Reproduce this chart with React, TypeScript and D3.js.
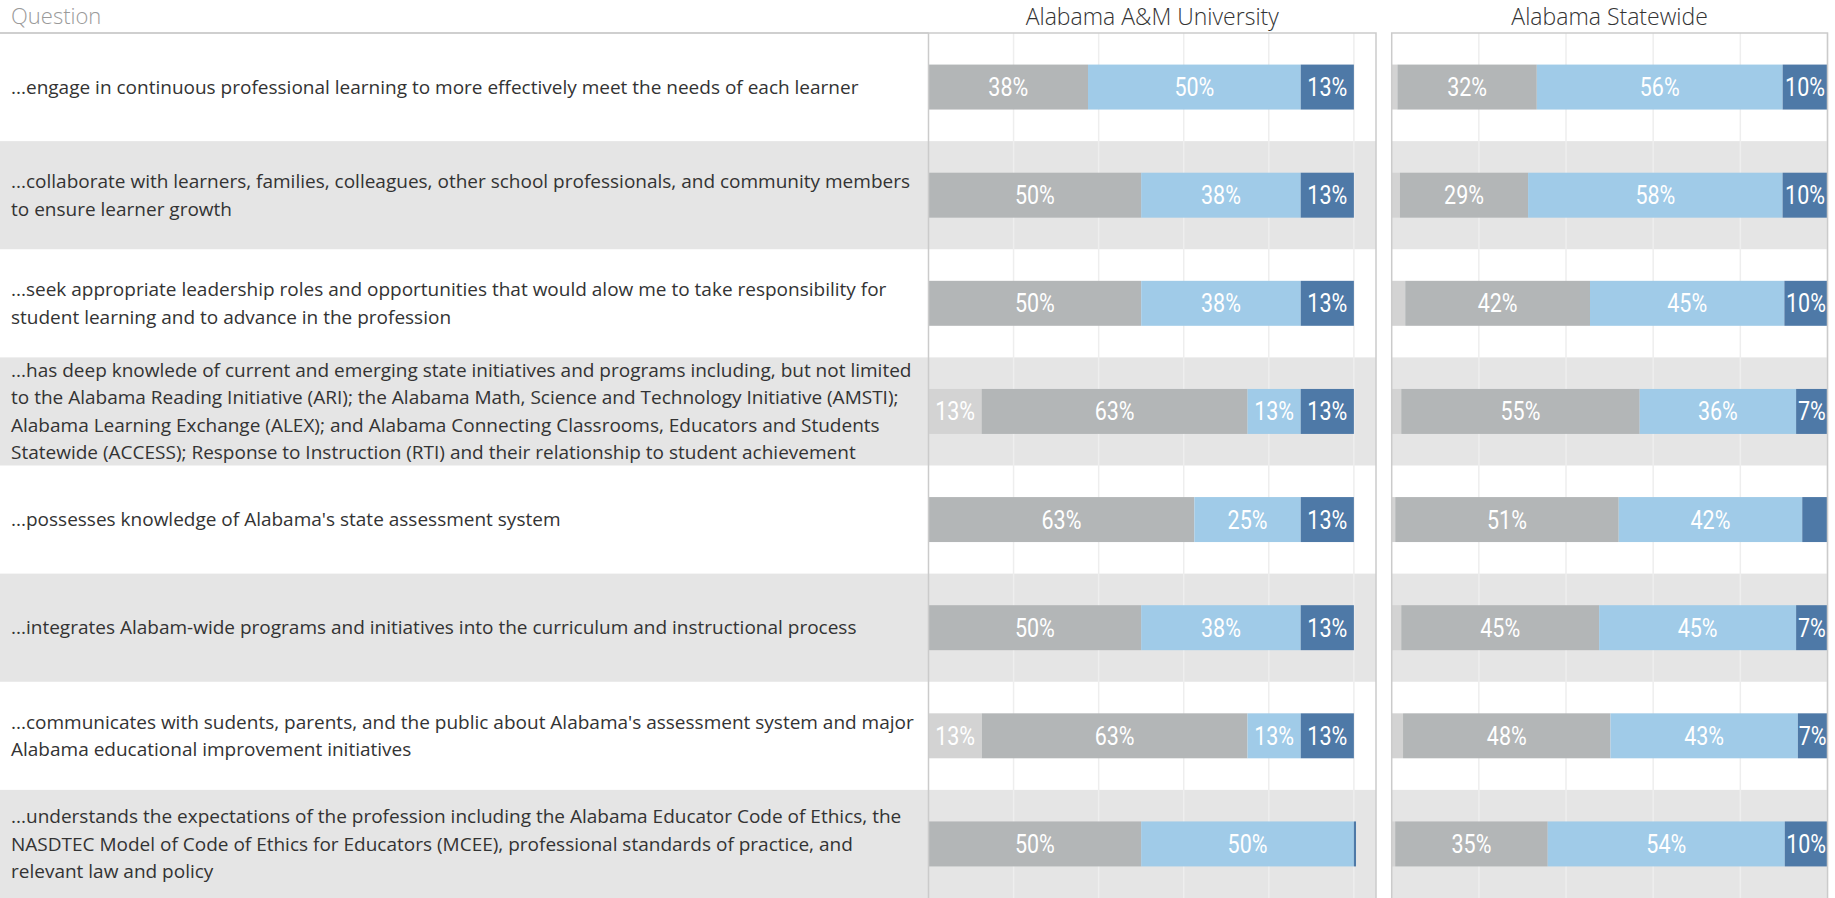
import React from "react";
import * as d3 from "d3";

const questionLines: string[][] = [
  ["...engage in continuous professional learning to more effectively meet the needs of each learner"],
  ["...collaborate with learners, families, colleagues, other school professionals, and community members", "to ensure learner growth"],
  ["...seek appropriate leadership roles and opportunities that would alow me to take responsibility for", "student learning and to advance in the profession"],
  [
    "...has deep knowlede of current and emerging state initiatives and programs including, but not limited",
    "to the Alabama Reading Initiative (ARI); the Alabama Math, Science and Technology Initiative (AMSTI);",
    "Alabama Learning Exchange (ALEX); and Alabama Connecting Classrooms, Educators and Students",
    "Statewide (ACCESS); Response to Instruction (RTI) and their relationship to student achievement",
  ],
  ["...possesses knowledge of Alabama's state assessment system"],
  ["...integrates Alabam-wide programs and initiatives into the curriculum and instructional process"],
  ["...communicates with sudents, parents, and the public about Alabama's assessment system and major", "Alabama educational improvement initiatives"],
  [
    "...understands the expectations of the profession including the Alabama Educator Code of Ethics, the",
    "NASDTEC Model of Code of Ethics for Educators (MCEE), professional standards of practice, and",
    "relevant law and policy",
  ],
];

const categories = ["Not prepared", "Somewhat prepared", "Prepared", "Well prepared"];
const categoryColors = ["#d3d3d3", "#b3b6b7", "#a0cbe8", "#4e79a7"];

const panelTitles = ["Alabama A&M University", "Alabama Statewide"];
const headerLabel = "Question";

// Alabama A&M University (percent)
const aamuNotPrepared = [0, 0, 0, 12.5, 0, 0, 12.5, 0];
const aamuSomewhat = [37.5, 50, 50, 62.5, 62.5, 50, 62.5, 50];
const aamuPrepared = [50, 37.5, 37.5, 12.5, 25, 37.5, 12.5, 50];
const aamuWell = [12.5, 12.5, 12.5, 12.5, 12.5, 12.5, 12.5, 0.5];

// Alabama Statewide (percent)
const stateNotPrepared = [1.3, 1.9, 3.1, 2.2, 0.8, 2.2, 2.6, 0.8];
const stateSomewhat = [32.0, 29.4, 42.4, 54.7, 51.3, 45.4, 47.6, 35.0];
const statePrepared = [56.4, 58.4, 44.6, 35.9, 42.1, 45.2, 43.0, 54.4];
const stateWell = [10.3, 10.3, 9.9, 7.2, 5.8, 7.2, 6.8, 9.8];

const gridTicks = [0.2, 0.4, 0.6, 0.8, 1.0];

const W = 1835;
const H = 898;
const TOP = 33;
const TEXT_RIGHT = 928.5;

function buildRows(a: number[], b: number[], c: number[], d: number[]) {
  return questionLines.map((_, i) => ({
    q: String(i),
    [categories[0]]: a[i] / 100,
    [categories[1]]: b[i] / 100,
    [categories[2]]: c[i] / 100,
    [categories[3]]: d[i] / 100,
  }));
}

const panels = [
  { title: panelTitles[0], rows: buildRows(aamuNotPrepared, aamuSomewhat, aamuPrepared, aamuWell), x0: 928.5, x1: 1376, max: 1.052 },
  { title: panelTitles[1], rows: buildRows(stateNotPrepared, stateSomewhat, statePrepared, stateWell), x0: 1391.7, x1: 1827.5, max: 1.0 },
];

export default function App() {
  const ids = questionLines.map((_, i) => String(i));
  const rowBand = d3.scaleBand<string>().domain(ids).range([TOP, H]).padding(0);
  const barBand = d3
    .scaleBand<string>()
    .domain(ids)
    .range([TOP, H])
    .paddingInner(0.584)
    .paddingOuter(0.292);
  const stack = d3.stack<any>().keys(categories);
  const lineH = 27.4;
  const textFont = "'Open Sans', 'Noto Sans', sans-serif";
  const labelFont = "Roboto, 'Noto Sans', sans-serif";

  return (
    <svg
      width={W}
      height={H}
      style={{ position: "absolute", left: 0, top: 0, background: "#fff" }}
    >
      {ids.map((id, i) =>
        i % 2 === 1 ? (
          <rect key={"tb" + id} x={0} y={rowBand(id)} width={TEXT_RIGHT} height={rowBand.bandwidth()} fill="#e5e5e5" />
        ) : null
      )}
      <text x={11} y={24} fontFamily={textFont} fontSize={22} fill="#9a9a9a" fontWeight={300}>
        {headerLabel}
      </text>
      <line x1={0} x2={TEXT_RIGHT} y1={TOP} y2={TOP} stroke="#cfcfcf" strokeWidth={2} />
      {questionLines.map((lines, i) => {
        const cy = (rowBand(String(i)) as number) + rowBand.bandwidth() / 2;
        const start = cy - ((lines.length - 1) * lineH) / 2;
        return (
          <text key={"q" + i} fontFamily={textFont} fontSize={19} fill="#333">
            {lines.map((l, j) => (
              <tspan key={j} x={11} y={start + j * lineH} dy="0.35em">
                {l}
              </tspan>
            ))}
          </text>
        );
      })}
      {panels.map((p, pi) => {
        const x = d3.scaleLinear().domain([0, p.max]).range([p.x0, p.x1]);
        const series = stack(p.rows);
        return (
          <g key={"p" + pi}>
            <text
              x={(p.x0 + p.x1) / 2}
              y={25}
              textAnchor="middle"
              fontFamily={textFont}
              fontSize={23}
              fill="#333"
              fontWeight={300}
            >
              {p.title}
            </text>
            {ids.map((id, i) =>
              i % 2 === 1 ? (
                <rect key={"b" + id} x={p.x0} y={rowBand(id)} width={p.x1 - p.x0} height={rowBand.bandwidth()} fill="#e5e5e5" />
              ) : null
            )}
            {gridTicks.map((t) => (
              <line key={"g" + t} x1={x(t)} x2={x(t)} y1={TOP} y2={H} stroke="#eeeeee" strokeWidth={1.5} />
            ))}
            {series.map((s, si) =>
              s.map((d, di) => {
                const xa = x(d[0]);
                const xb = x(d[1]);
                const w = xb - xa;
                if (w <= 0) return null;
                const y = barBand(ids[di]) as number;
                const bh = barBand.bandwidth();
                const v = d[1] - d[0];
                return (
                  <g key={"s" + si + "-" + di}>
                    <rect x={xa} y={y} width={w} height={bh} fill={categoryColors[si]} />
                    {w >= 28 ? (
                      <text
                        transform={`translate(${(xa + xb) / 2},${y + bh / 2}) scale(0.86,1)`}
                        textAnchor="middle"
                        dy="0.36em"
                        fontFamily={labelFont}
                        fontSize={25}
                        fill="#fff"
                      >
                        {Math.round(v * 100) + "%"}
                      </text>
                    ) : null}
                  </g>
                );
              })
            )}
            <rect x={p.x0} y={TOP} width={p.x1 - p.x0} height={H - TOP + 2} fill="none" stroke="#cbcbcb" strokeWidth={1.5} />
          </g>
        );
      })}
    </svg>
  );
}
